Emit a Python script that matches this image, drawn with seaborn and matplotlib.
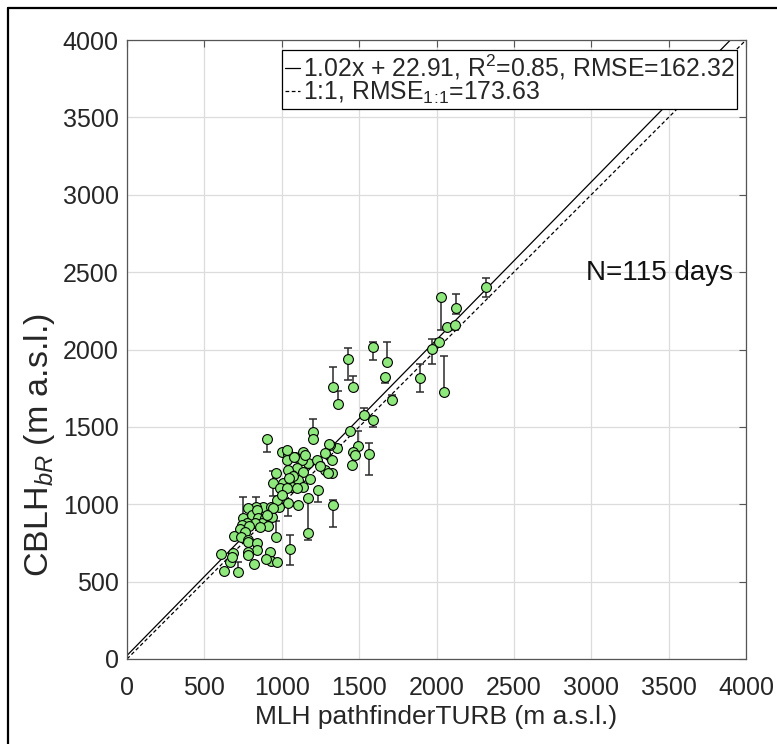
import numpy as np
import pandas as pd
import matplotlib
matplotlib.use("Agg")
import matplotlib.pyplot as plt
from matplotlib.lines import Line2D
import seaborn as sns

# ---- data ----
mlh_x = [2319, 2026, 2125, 2071, 2121, 2018, 1972, 1893, 2050, 1682,
         1667, 1710, 1591, 1426, 1331, 1458, 1361, 1531, 1589, 1441,
         1359, 1311, 1494, 1462, 1473, 1451, 1561, 1322, 1322, 1204,
         1204, 1305, 1279, 1139, 1085, 1171, 1128, 1096, 1139, 1279,
         1301, 1064, 1107, 1064, 1139, 1233, 1107, 1333, 1171, 1053,
         902, 999, 1042, 1031, 1225, 1042, 1074, 963, 945, 1010,
         1048, 1096, 988, 1031, 1171, 1042, 881, 831, 784, 928,
         984, 967, 751, 806, 838, 848, 891, 935, 870, 827,
         773, 741, 790, 913, 730, 762, 859, 691, 734, 784,
         963, 784, 842, 842, 784, 784, 924, 928, 898, 971,
         820, 719, 629, 609, 665, 687, 676, 941, 906, 1079,
         1031, 1250, 1180, 1150, 1000]
cblh_y = [2401, 2341, 2267, 2145, 2158, 2050, 2001, 1815, 1725, 1921,
          1824, 1675, 2015, 1936, 1759, 1759, 1645, 1576, 1545, 1473,
          1361, 1382, 1376, 1339, 1318, 1253, 1324, 1286, 1204, 1464,
          1421, 1387, 1329, 1339, 1307, 1264, 1286, 1232, 1210, 1221,
          1200, 1189, 1156, 1113, 1109, 1092, 995, 995, 816, 709,
          1419, 1335, 1322, 1286, 1286, 1221, 1182, 1204, 1135, 1135,
          1167, 1103, 1103, 1103, 1038, 1006, 984, 980, 973, 984,
          984, 1027, 909, 930, 962, 909, 909, 919, 877, 877,
          880, 866, 859, 859, 838, 822, 855, 795, 790, 769,
          790, 758, 747, 704, 693, 672, 693, 635, 644, 625,
          614, 564, 571, 676, 629, 687, 661, 973, 930, 1303,
          1350, 1250, 1160, 1320, 1060]
err_low = [60, 215, 35, 0, 30, 0, 95, 90, 0, 0,
           40, 0, 85, 130, 0, 0, 0, 0, 45, 0,
           0, 0, 0, 0, 0, 0, 135, 0, 0, 0,
           0, 0, 0, 0, 0, 0, 0, 0, 0, 0,
           0, 0, 0, 0, 0, 76, 0, 140, 45, 100,
           80, 0, 0, 0, 0, 0, 0, 0, 80, 0,
           0, 0, 0, 0, 0, 85, 0, 0, 0, 0,
           0, 0, 0, 0, 0, 0, 0, 0, 0, 0,
           0, 0, 0, 0, 0, 0, 0, 0, 0, 0,
           0, 0, 0, 0, 0, 0, 0, 0, 0, 0,
           0, 0, 0, 0, 0, 0, 0, 0, 0, 0,
           0, 0, 0, 0, 0]
err_high = [60, 0, 90, 0, 0, 20, 70, 90, 230, 125,
            0, 30, 35, 75, 130, 70, 85, 45, 0, 0,
            0, 0, 100, 0, 0, 0, 70, 0, 0, 85,
            0, 0, 0, 0, 0, 0, 0, 0, 0, 0,
            0, 0, 0, 0, 0, 0, 0, 35, 210, 90,
            0, 0, 30, 0, 0, 0, 0, 0, 80, 0,
            0, 0, 0, 0, 0, 0, 0, 70, 0, 0,
            0, 0, 140, 0, 0, 0, 0, 0, 0, 0,
            0, 0, 0, 0, 0, 0, 0, 0, 0, 0,
            100, 0, 0, 0, 0, 0, 0, 0, 0, 0,
            0, 65, 0, 0, 0, 0, 0, 0, 0, 0,
            0, 0, 0, 0, 0]

fit_slope, fit_intercept = 1.02, 22.91
line_x = [0, 4000]
ticks = [0, 500, 1000, 1500, 2000, 2500, 3000, 3500, 4000]
fit_label = r"1.02x + 22.91, R$^{2}$=0.85, RMSE=162.32"
one_label = r"1:1, RMSE$_{1\!:\!1}$=173.63"
n_text = "N=115 days"

df = pd.DataFrame({"x": mlh_x, "y": cblh_y, "lo": err_low, "hi": err_high})
lines = pd.DataFrame({
    "x": line_x + line_x,
    "y": [fit_slope * v + fit_intercept for v in line_x] + list(line_x),
    "kind": ["fit", "fit", "one", "one"],
})

# ---- style ----
sns.set_theme(style="white")
plt.rcParams["font.family"] = ["Liberation Sans", "DejaVu Sans"]
plt.rcParams["mathtext.fontset"] = "custom"
plt.rcParams["mathtext.rm"] = "Liberation Sans"
plt.rcParams["mathtext.it"] = "Liberation Sans:italic"
plt.rcParams["mathtext.bf"] = "Liberation Sans:bold"

fig = plt.figure(figsize=(7.77, 7.44), dpi=100)
ax = fig.add_axes([127 / 777, 1 - 659 / 744, 619 / 777, 619 / 744])

ax.grid(True, color="#dcdcdc", linewidth=0.9)
ax.set_axisbelow(True)

# lines
sns.lineplot(data=lines[lines.kind == "fit"], x="x", y="y", ax=ax,
             color="black", linewidth=0.9, label=fit_label, zorder=2)
sns.lineplot(data=lines[lines.kind == "one"], x="x", y="y", ax=ax,
             color="black", linewidth=0.9, linestyle=(0, (3, 2)),
             label=one_label, zorder=2)

# error bars
ax.errorbar(df.x, df.y, yerr=[df.lo, df.hi], fmt="none", ecolor="#2b2b2b",
            elinewidth=1.1, capsize=3, capthick=1.1, zorder=3)
# points
sns.scatterplot(data=df, x="x", y="y", ax=ax, s=50, color="#8ee87c",
                edgecolor="black", linewidth=0.8, zorder=4, legend=False)

ax.set_xlim(0, 4000)
ax.set_ylim(0, 4000)
ax.set_xticks(ticks)
ax.set_yticks(ticks)
ax.tick_params(direction="in", length=5, width=0.8, colors="#555555",
               labelcolor="#262626", labelsize=18, top=True, right=True)
ax.tick_params(axis="x", pad=12)
ax.tick_params(axis="y", pad=6)
for s in ax.spines.values():
    s.set_color("#555555")
    s.set_linewidth(0.9)
    s.set_visible(True)

ax.set_xlabel("MLH pathfinderTURB (m a.s.l.)", fontsize=19, color="#262626")
ax.xaxis.set_label_coords(0.5, -0.074)
ax.set_ylabel(r"CBLH$_{bR}$ (m a.s.l.)", fontsize=24.5, color="#262626")
ax.yaxis.set_label_coords(-0.113, 0.346)

ax.text(3915, 2494, n_text, fontsize=20, ha="right", va="center",
        color="#111111")

leg = ax.legend(loc="upper right", bbox_to_anchor=(0.986, 0.984),
                fontsize=17.8, frameon=True, fancybox=False,
                edgecolor="black", framealpha=1, handlelength=0.6,
                handletextpad=0.1, borderpad=0.12, labelspacing=-0.1,
                borderaxespad=0.0)
leg.get_frame().set_linewidth(0.9)

# outer frame lines (as in the reference screenshot)
fig.add_artist(Line2D([8 / 777, 8 / 777], [0, 1 - 8 / 744],
                      transform=fig.transFigure, color="black", linewidth=1.6))
fig.add_artist(Line2D([8 / 777, 1], [1 - 8 / 744, 1 - 8 / 744],
                      transform=fig.transFigure, color="black", linewidth=1.6))

fig.savefig("out.png", dpi=100)
